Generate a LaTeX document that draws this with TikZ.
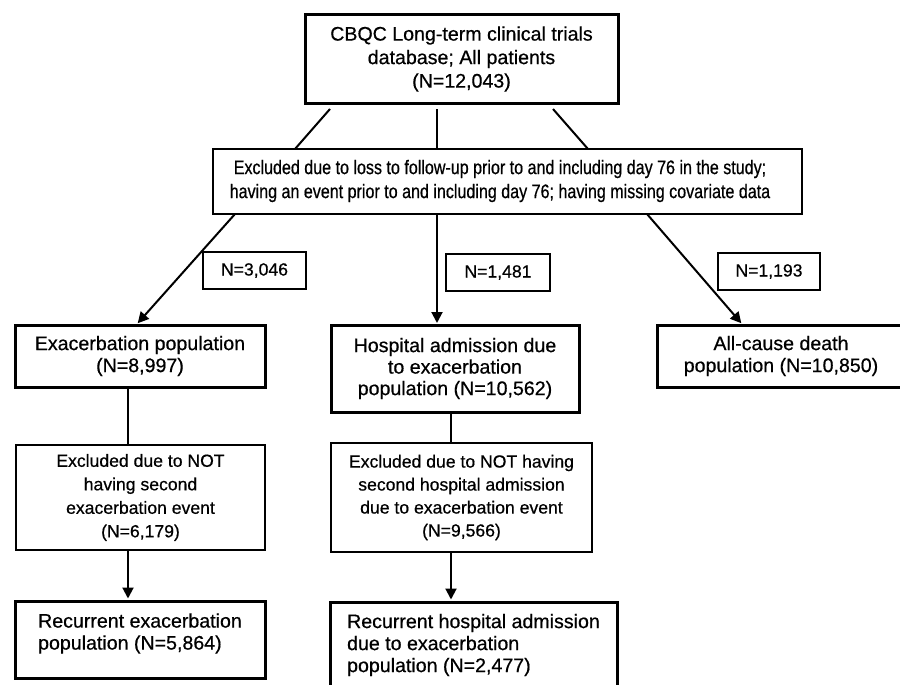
\documentclass[tikz,border=0pt]{standalone}
\usepackage{fontspec}
\setmainfont[RawFeature={embolden=0.6}]{Liberation Sans}
\newfontfamily\narrowfont[FakeStretch=0.82,RawFeature={embolden=0.6}]{Liberation Sans}
\usetikzlibrary{arrows.meta}
\begin{document}
\begin{tikzpicture}[x=1pt,y=-1pt,
  boldbox/.style={draw=black, line width=3pt, inner sep=0pt, align=center},
  thinbox/.style={draw=black, line width=1.4pt, inner sep=0pt, align=center},
  big/.style={font=\fontsize{19.6}{22}\selectfont},
  small/.style={font=\fontsize{17.6}{23.5}\selectfont},
  conn/.style={line width=2pt},
  arr/.style={line width=2pt, -{Triangle[length=11pt,width=11pt]}, shorten >=1pt},
]
\useasboundingbox (0,0) rectangle (900,685);

% boxes
\node[boldbox, minimum width=313pt, minimum height=88pt, font=\fontsize{19.6}{23.5}\selectfont] (top) at (461.5,59) {CBQC Long-term clinical trials\\database; All patients\\(N=12,043)};

\node[thinbox, minimum width=589pt, minimum height=65pt] (excl) at (507.5,181.5) {};
\node[font=\narrowfont\fontsize{19.6}{24}\selectfont, align=center, inner sep=0pt] (excltext) at (500,181) {Excluded due to loss to follow-up prior to and including day 76 in the study;\\having an event prior to and including day 76; having missing covariate data};

\node[thinbox, small, minimum width=103pt, minimum height=37pt] (n1) at (254.5,270.5) {N=3,046};
\node[thinbox, small, minimum width=104pt, minimum height=37pt] (n2) at (498,272.5) {N=1,481};
\node[thinbox, small, minimum width=102pt, minimum height=37pt] (n3) at (769,271.5) {N=1,193};

\node[boldbox, big, minimum width=250pt, minimum height=62pt] (exa) at (140,356) {Exacerbation population\\(N=8,997)};
\node[boldbox, minimum width=248pt, minimum height=87pt, font=\fontsize{19.6}{21.5}\selectfont] (hosp) at (455,368.5) {Hospital admission due\\to exacerbation\\population (N=10,562)};
\node[boldbox, big, minimum width=248pt, minimum height=62pt] (death) at (781,356) {All-cause death\\population (N=10,850)};

\node[thinbox, small, minimum width=249pt, minimum height=105pt] (ex2) at (140.5,497.5) {Excluded due to NOT\\having second\\exacerbation event\\(N=6,179)};
\node[thinbox, minimum width=261pt, minimum height=109pt, font=\fontsize{17.6}{23}\selectfont] (ex3) at (461.5,497.5) {Excluded due to NOT having\\second hospital admission\\due to exacerbation event\\(N=9,566)};

\node[boldbox, minimum width=250pt, minimum height=77pt] (rec1) at (140,639.5) {};
\node[big, align=left, inner sep=0pt] (rec1t) at (140,633.5) {Recurrent exacerbation\\population (N=5,864)};
\node[boldbox, big, align=left, minimum width=287pt, minimum height=86pt] (rec2) at (473.5,645) {Recurrent hospital admission\\due to exacerbation\\population (N=2,477)};

% connectors top -> exclusion
\coordinate (t1) at (330,109); \coordinate (e1) at (295,149);
\coordinate (t2) at (437,109); \coordinate (e2) at (437,149);
\coordinate (t3) at (553,109); \coordinate (e3) at (588,149);
\draw[conn] (t1) -- (e1);
\draw[conn] (t2) -- (e2);
\draw[conn] (t3) -- (e3);

% exclusion -> populations
\coordinate (b1) at (235,214); \coordinate (a1) at (137,324);
\coordinate (b2) at (437,214); \coordinate (a2) at (437,324);
\coordinate (b3) at (647,214); \coordinate (a3) at (742,324);
\draw[arr] (b1) -- (a1);
\draw[arr] (b2) -- (a2);
\draw[arr] (b3) -- (a3);

% lower chains
\coordinate (c1) at (128,387);
\draw[conn] (c1) -- (c1 |- ex2.north);
\coordinate (c2) at (128,550);
\draw[arr] (c2) -- (c2 |- rec1.north);
\coordinate (c3) at (451,412);
\draw[conn] (c3) -- (c3 |- ex3.north);
\coordinate (c4) at (451,552);
\draw[arr] (c4) -- (c4 |- rec2.north);
\end{tikzpicture}
\end{document}
